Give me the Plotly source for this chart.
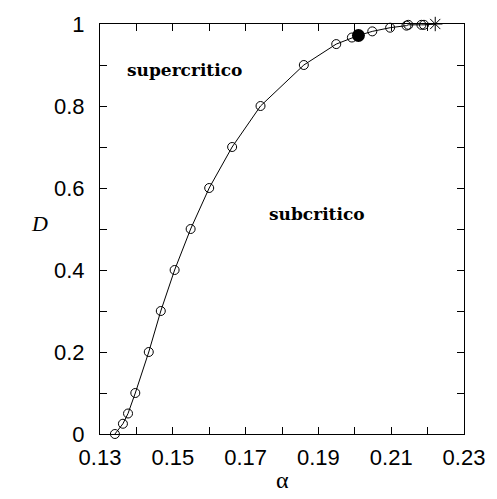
import plotly.graph_objects as go

# Open-circle data points
alpha_open = [0.1341, 0.1363, 0.1377, 0.1397, 0.1434, 0.1467, 0.1505, 0.1549, 0.1600,
              0.1663, 0.1741, 0.1860, 0.1949, 0.1992, 0.2048, 0.2097, 0.2142, 0.2147,
              0.2183, 0.2190]
D_open = [0.0, 0.025, 0.05, 0.1, 0.2, 0.3, 0.4, 0.5, 0.6,
          0.7, 0.8, 0.9, 0.951, 0.967, 0.982, 0.991, 0.996, 0.998,
          0.998, 0.998]
# Filled point
alpha_filled = [0.2010]
D_filled = [0.972]
# Star point
alpha_star = [0.2221]
D_star = [1.0]

x_ticks = [0.13, 0.14, 0.15, 0.16, 0.17, 0.18, 0.19, 0.20, 0.21, 0.22, 0.23]
x_labels = ["0.13", "", "0.15", "", "0.17", "", "0.19", "", "0.21", "", "0.23"]
y_ticks = [0, 0.1, 0.2, 0.3, 0.4, 0.5, 0.6, 0.7, 0.8, 0.9, 1.0]
y_labels = ["0", "", "0.2", "", "0.4", "", "0.6", "", "0.8", "", "1"]

pts = sorted(zip(alpha_open + alpha_filled + alpha_star, D_open + D_filled + D_star))
line_x = [p[0] for p in pts]
line_y = [p[1] for p in pts]

fig = go.Figure()
fig.add_trace(go.Scatter(x=line_x, y=line_y, mode="lines", cliponaxis=False,
                         line=dict(color="black", width=1), hoverinfo="skip"))
fig.add_trace(go.Scatter(x=alpha_open, y=D_open, mode="markers", cliponaxis=False,
                         marker=dict(symbol="circle-open", size=9, color="black",
                                     line=dict(width=1, color="black"))))
fig.add_trace(go.Scatter(x=alpha_filled, y=D_filled, mode="markers", cliponaxis=False,
                         marker=dict(symbol="circle", size=13, color="black")))
fig.add_trace(go.Scatter(x=alpha_star, y=D_star, mode="markers", cliponaxis=False,
                         marker=dict(symbol="asterisk-open", size=12, color="black",
                                     line=dict(width=1, color="black"))))

tickfont = dict(family="Liberation Sans", size=22, color="black")
axis_common = dict(showgrid=False, zeroline=False, showline=True, linecolor="black",
                   linewidth=1, mirror="ticks", ticks="inside", ticklen=7,
                   tickcolor="black", tickwidth=1, tickfont=tickfont)

fig.update_layout(
    width=497, height=499,
    margin=dict(l=100, r=27, t=21, b=65),
    paper_bgcolor="white", plot_bgcolor="white",
    showlegend=False,
    xaxis=dict(range=[0.13, 0.23], tickmode="array", tickvals=x_ticks, ticktext=x_labels,
               ticklabelstandoff=4, **axis_common),
    yaxis=dict(range=[0, 1], tickmode="array", tickvals=y_ticks, ticktext=y_labels,
               ticklabelstandoff=10, **axis_common),
    annotations=[
        dict(text="<b>supercritico</b>", x=186, y=67, xref="paper", yref="paper",
             showarrow=False, font=dict(family="DejaVu Serif", size=17, color="black")),
        dict(text="<b>subcritico</b>", x=321, y=212, xref="paper", yref="paper",
             showarrow=False, font=dict(family="DejaVu Serif", size=17, color="black")),
        dict(text="<i>D</i>", x=38, y=222, xref="paper", yref="paper",
             showarrow=False, font=dict(family="Liberation Serif", size=22, color="black")),
        dict(text="α", x=285, y=480, xref="paper", yref="paper",
             showarrow=False, font=dict(family="Liberation Serif", size=24, color="black")),
    ],
)

# convert pixel annotation positions to paper coords
W, H = 497, 499
l, r, t, b = 100, 27, 21, 65
pw, ph = W - l - r, H - t - b
for a in fig.layout.annotations:
    px, py = a.x, a.y
    a.x = (px - l) / pw
    a.y = 1 - (py - t) / ph
    a.xanchor = "center"
    a.yanchor = "middle"

fig.write_html("out.html")
